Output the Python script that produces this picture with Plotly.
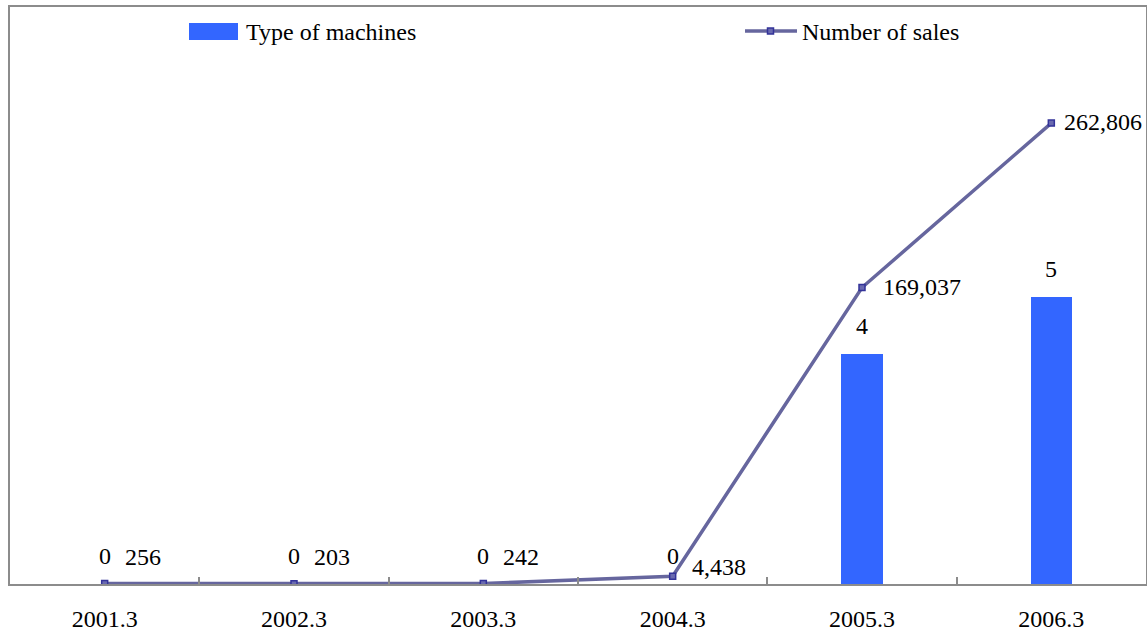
import plotly.graph_objects as go

# Fiscal periods and the two series
periods = ["2001.3", "2002.3", "2003.3", "2004.3", "2005.3", "2006.3"]
machine_types = [0, 0, 0, 0, 4, 5]
sales = [256, 203, 242, 4438, 169037, 262806]

W, H = 1147, 633
M_L, M_R, M_T, M_B = 10, 1, 7, 49
FONT = "Liberation Serif"
FS = 24
BAR_COLOR = "#3366FF"
LINE_COLOR = "#66669E"
MARK_EDGE = "#333399"
FRAME = "#8C8C8C"

# Label offsets (pixels) for the sales labels, per point
sales_dx = [18, 18, 18, 17, 19, 11]
sales_dy = [27, 27, 27, 9, 1, 1]


def px_x(x):
    return (x - M_L) / (W - M_L - M_R)


def px_y(y):
    return (H - M_B - y) / (H - M_T - M_B)


fig = go.Figure()

fig.add_trace(go.Bar(
    x=periods, y=machine_types, name="Type of machines",
    marker=dict(color=BAR_COLOR, line=dict(width=0)),
    width=0.217, yaxis="y", showlegend=False,
))

fig.add_trace(go.Scatter(
    x=periods, y=sales, name="Number of sales", mode="lines+markers",
    line=dict(color=LINE_COLOR, width=3.5),
    marker=dict(symbol="square", size=6, color="#6A6AB0",
                line=dict(color=MARK_EDGE, width=1.5)),
    yaxis="y2", showlegend=False,
))

annotations = []
# value labels above the bars (category index positions)
for i, v in enumerate(machine_types):
    annotations.append(dict(
        x=i, y=v, xref="x", yref="y", text=f"{v}", showarrow=False,
        xanchor="center", yanchor="middle", yshift=28,
        font=dict(family=FONT, size=FS, color="black"),
    ))
# value labels beside the line points
for i, (v, dx, dy) in enumerate(zip(sales, sales_dx, sales_dy)):
    annotations.append(dict(
        x=i, y=v, xref="x", yref="y2", text=f"{v:,}", showarrow=False,
        xanchor="left", yanchor="middle", xshift=dx, yshift=dy,
        font=dict(family=FONT, size=FS, color="black"),
    ))

# legend entries
annotations.append(dict(
    x=px_x(244), y=px_y(32), xref="paper", yref="paper", text="Type of machines",
    showarrow=False, xanchor="left", yanchor="middle",
    font=dict(family=FONT, size=FS, color="black"),
))
annotations.append(dict(
    x=px_x(800), y=px_y(32), xref="paper", yref="paper", text="Number of sales",
    showarrow=False, xanchor="left", yanchor="middle",
    font=dict(family=FONT, size=FS, color="black"),
))

shapes = [
    dict(type="rect", xref="paper", yref="paper",
         x0=px_x(189), x1=px_x(238), y0=px_y(40), y1=px_y(23),
         fillcolor=BAR_COLOR, line=dict(width=0)),
    dict(type="line", xref="paper", yref="paper",
         x0=px_x(745), x1=px_x(797), y0=px_y(31), y1=px_y(31),
         line=dict(color=LINE_COLOR, width=3.5)),
    dict(type="rect", xref="paper", yref="paper",
         x0=px_x(767.5), x1=px_x(773.5), y0=px_y(34), y1=px_y(28),
         fillcolor="#6A6AB0", line=dict(color=MARK_EDGE, width=1.5)),
]

fig.update_layout(
    width=W, height=H,
    margin=dict(l=M_L, r=M_R, t=M_T, b=M_B, pad=0, autoexpand=False),
    paper_bgcolor="white", plot_bgcolor="white",
    font=dict(family=FONT, size=FS, color="black"),
    xaxis=dict(
        type="category", range=[-0.5, 5.5], automargin=False,
        showline=True, linecolor=FRAME, linewidth=2, mirror=True,
        ticks="inside", tickson="boundaries", ticklen=7, tickwidth=2,
        tickcolor=FRAME, showgrid=False, zeroline=False,
        ticklabelstandoff=12,
        tickfont=dict(family=FONT, size=FS, color="black"),
    ),
    yaxis=dict(
        range=[0, 10.04], showticklabels=False, ticks="", automargin=False,
        showgrid=False, zeroline=False,
        showline=True, linecolor=FRAME, linewidth=2, mirror=True,
    ),
    yaxis2=dict(
        range=[0, 329000], overlaying="y", side="right", automargin=False,
        showticklabels=False, ticks="", showgrid=False, zeroline=False,
        showline=False,
    ),
    bargap=0, annotations=annotations, shapes=shapes,
)

fig.write_html("out.html")
